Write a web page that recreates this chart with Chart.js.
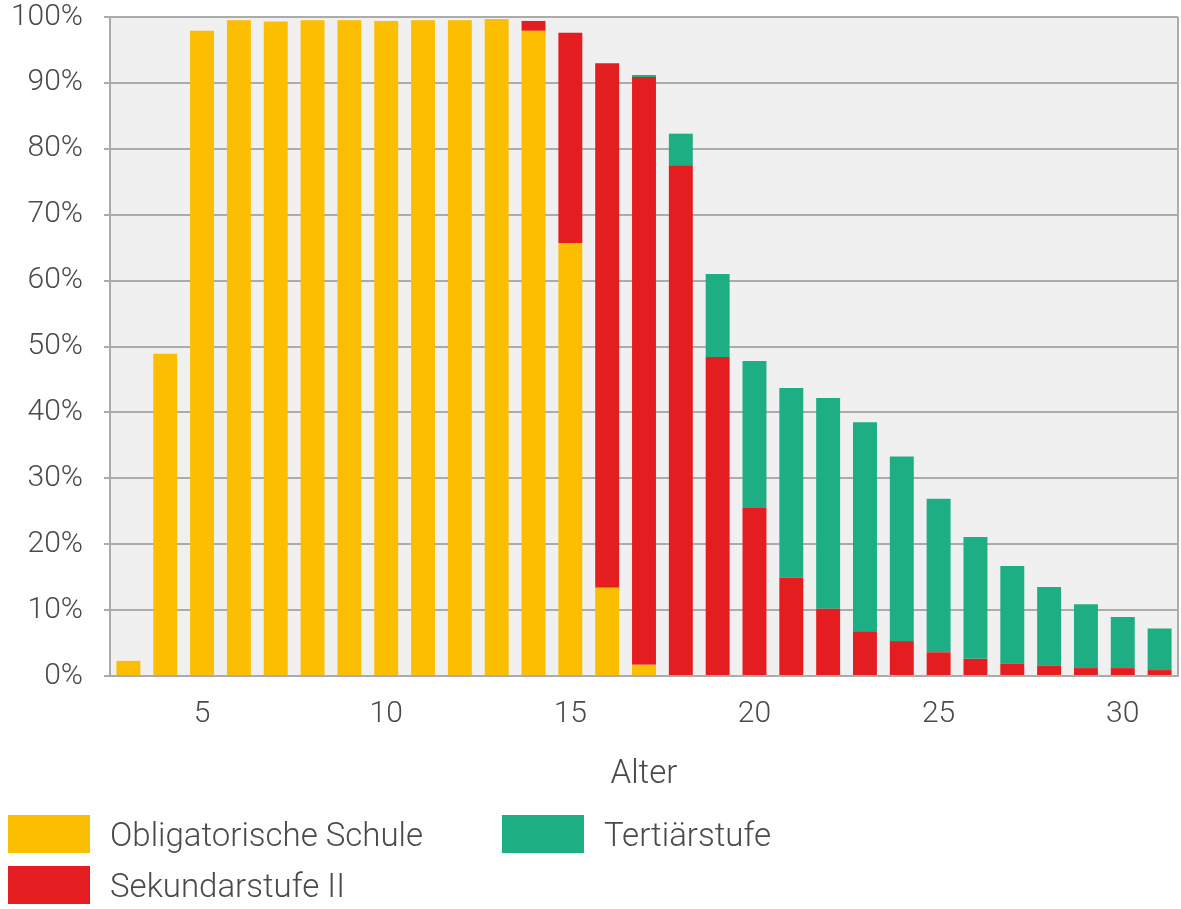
<!DOCTYPE html>
<html>
<head>
<meta charset="utf-8">
<script src="https://cdn.jsdelivr.net/npm/chart.js@4"></script>
<style>
  html, body { margin:0; padding:0; background:#fff; overflow:hidden; }
  #wrap { position:absolute; left:0; top:0; width:1181px; height:800px; }
  #legend { position:absolute; left:0; top:0; width:1181px; height:909px; pointer-events:none;
            font-family: Roboto, "Noto Sans", sans-serif; font-weight:300; font-size:33px; color:#4a4a4a; }
  .li { position:absolute; display:flex; align-items:center; height:38px; }
  .sw { width:82px; height:38px; margin-right:20px; flex:none; }
</style>
</head>
<body>
<div id="wrap"><canvas id="c" width="1181" height="800"></canvas></div>
<div id="legend"></div>
<script>
const ages = [3,4,5,6,7,8,9,10,11,12,13,14,15,16,17,18,19,20,21,22,23,24,25,26,27,28,29,30,31];
const obligatorisch = [2.3,48.9,97.9,99.5,99.3,99.5,99.5,99.4,99.5,99.5,99.7,97.9,65.7,13.4,1.7,0,0,0,0,0,0,0,0,0,0,0,0,0,0];
const sekundar     = [0,0,0,0,0,0,0,0,0,0,0,1.5,31.9,79.6,89.2,77.5,48.4,25.5,14.9,10.2,6.8,5.3,3.6,2.6,1.9,1.6,1.2,1.2,0.9];
const tertiaer     = [0,0,0,0,0,0,0,0,0,0,0,0,0,0,0.3,4.8,12.6,22.3,28.8,32.0,31.7,28.0,23.3,18.5,14.8,11.9,9.7,7.75,6.3];
const seriesNames = ["Obligatorische Schule","Sekundarstufe II","Tertiärstufe"];
const seriesColors = ["#FBBE00","#E41E20","#1EAE83"];
const yTicks = [0,10,20,30,40,50,60,70,80,90,100];
const xTickAges = [5,10,15,20,25,30];

const fontFam = 'Roboto, "Noto Sans", sans-serif';
const tickColor = '#4a4a4a';
const gridColor = '#ababab';

const plotBg = {
  id:'plotBg',
  beforeDraw(chart){
    const {ctx, chartArea:a} = chart;
    ctx.save();
    ctx.fillStyle = '#f0f0f0';
    ctx.fillRect(a.left, a.top, a.right-a.left, a.bottom-a.top);
    ctx.restore();
  },
  afterDraw(chart){
    const {ctx, chartArea:a} = chart;
    ctx.save();
    ctx.strokeStyle = gridColor;
    ctx.lineWidth = 2;
    ctx.beginPath();
    ctx.moveTo(a.right, a.top);
    ctx.lineTo(a.right, a.bottom);
    ctx.stroke();
    ctx.restore();
  }
};

new Chart(document.getElementById('c'), {
  type:'bar',
  data:{
    labels: ages,
    datasets:[
      {label:seriesNames[0], data:obligatorisch, backgroundColor:seriesColors[0]},
      {label:seriesNames[1], data:sekundar, backgroundColor:seriesColors[1]},
      {label:seriesNames[2], data:tertiaer, backgroundColor:seriesColors[2]}
    ]
  },
  plugins:[plotBg],
  options:{
    responsive:false,
    devicePixelRatio:1,
    animation:false,
    layout:{padding:{top:0,right:3,left:0,bottom:0}},
    datasets:{bar:{categoryPercentage:1, barPercentage:0.65, borderWidth:0}},
    plugins:{legend:{display:false}, tooltip:{enabled:false}},
    scales:{
      x:{
        stacked:true,
        grid:{display:false, drawTicks:false},
        border:{display:true, color:gridColor, width:2},
        ticks:{
          autoSkip:false, maxRotation:0, padding:20,
          color:tickColor, font:{family:fontFam, size:30, weight:300},
          callback:function(v,i){ const a = ages[i]; return xTickAges.includes(a) ? String(a) : ''; }
        },
        title:{display:true, text:'Alter', color:tickColor, font:{family:fontFam, size:33, weight:300}, padding:{top:4,bottom:5}},
        afterFit(s){ s.height = 124; s.paddingLeft = 0; s.paddingRight = 0; }
      },
      y:{
        stacked:true, min:0, max:100,
        afterBuildTicks(s){ s.ticks = yTicks.map(v=>({value:v})); },
        grid:{color:gridColor, lineWidth:2, tickLength:6},
        border:{display:true, color:gridColor, width:2},
        ticks:{
          padding:21, color:tickColor, font:{family:fontFam, size:30, weight:300},
          callback:v=>v+'%'
        },
        afterFit(s){ s.width = 110; s.paddingTop = 17; s.paddingBottom = 0; }
      }
    }
  }
});

// legend (column-major: two rows)
const lg = document.getElementById('legend');
const pos = [[8,815],[8,866],[502,815]];
seriesNames.forEach((n,i)=>{
  const d = document.createElement('div');
  d.className='li';
  d.style.left = pos[i][0]+'px';
  d.style.top = pos[i][1]+'px';
  d.innerHTML = '<div class="sw" style="background:'+seriesColors[i]+'"></div><span>'+n+'</span>';
  lg.appendChild(d);
});
</script>
</body>
</html>
